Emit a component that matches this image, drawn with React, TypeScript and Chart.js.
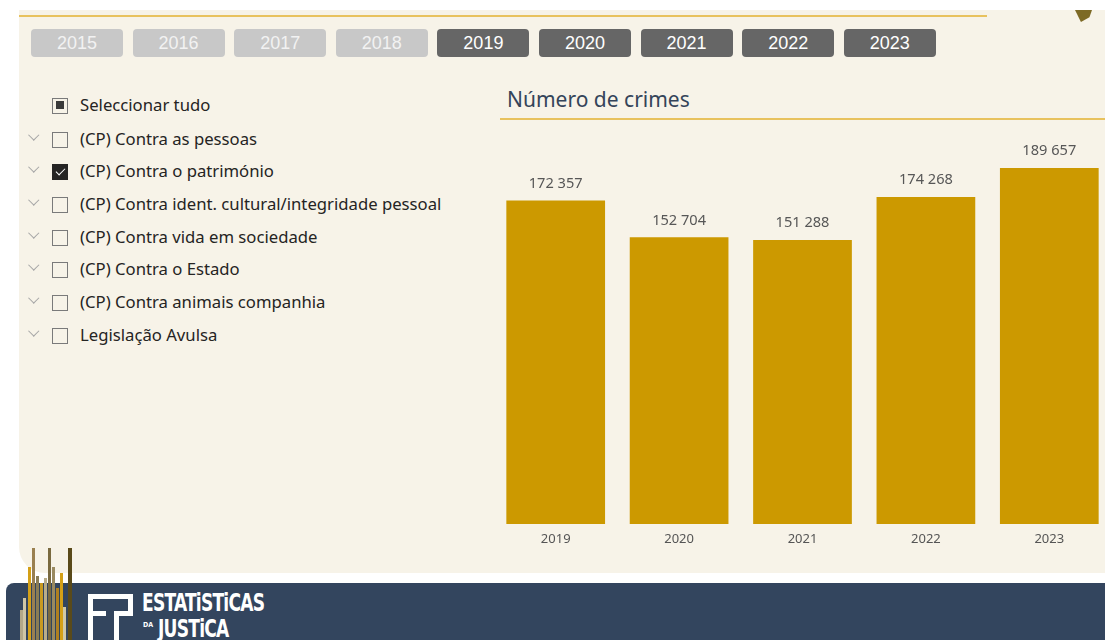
import React, { useEffect, useRef } from "react";
import { Chart, registerables } from "chart.js";

Chart.register(...registerables);

const yearButtons = ["2015", "2016", "2017", "2018", "2019", "2020", "2021", "2022", "2023"];
const selectedYears = ["2019", "2020", "2021", "2022", "2023"];
const years = ["2019", "2020", "2021", "2022", "2023"];
const crimes = [172357, 152704, 151288, 174268, 189657];
const crimeTypes = [
  "(CP) Contra as pessoas",
  "(CP) Contra o património",
  "(CP) Contra ident. cultural/integridade pessoal",
  "(CP) Contra vida em sociedade",
  "(CP) Contra o Estado",
  "(CP) Contra animais companhia",
  "Legislação Avulsa",
];
const checkedTypes = ["(CP) Contra o património"];
const chartTitle = "Número de crimes";
const yMax = 200000;

const UI_FONT = "'Noto Sans', 'Open Sans', sans-serif";
const CREAM = "#f7f3e8";
const GOLD = "#cc9900";

const fmt = (n: number) => n.toString().replace(/\B(?=(\d{3})+(?!\d))/g, " ");

const valueLabels = {
  id: "valueLabels",
  afterDatasetsDraw(chart: any) {
    const ctx = chart.ctx;
    const meta = chart.getDatasetMeta(0);
    ctx.save();
    ctx.font = `14.6px ${UI_FONT}`;
    ctx.fillStyle = "#575757";
    ctx.textAlign = "center";
    ctx.textBaseline = "middle";
    meta.data.forEach((bar: any, i: number) => {
      ctx.fillText(fmt(crimes[i]), bar.x, bar.y - 17);
    });
    ctx.restore();
  },
};

function BarChart() {
  const ref = useRef<HTMLCanvasElement>(null);
  useEffect(() => {
    if (!ref.current) return;
    const chart = new Chart(ref.current, {
      type: "bar",
      data: {
        labels: years,
        datasets: [
          {
            data: crimes,
            backgroundColor: GOLD,
            borderWidth: 0,
            categoryPercentage: 0.8,
            barPercentage: 1,
          },
        ],
      },
      options: {
        animation: false,
        responsive: false,
        maintainAspectRatio: false,
        layout: { padding: { top: 18.6, left: 0, right: 0, bottom: 0 } },
        plugins: { legend: { display: false }, tooltip: { enabled: false } },
        scales: {
          x: {
            grid: { display: false, drawTicks: false },
            border: { display: false },
            ticks: { color: "#555555", font: { family: UI_FONT, size: 13 }, padding: 7 },
            afterFit: (s: any) => {
              s.height = 26;
            },
          },
          y: { display: false, min: 0, max: yMax },
        },
      },
      plugins: [valueLabels],
    });
    return () => chart.destroy();
  }, []);
  return (
    <canvas
      ref={ref}
      width={617}
      height={420}
      style={{ position: "absolute", left: 494, top: 130, width: 617, height: 420 }}
    />
  );
}

const logoLines = [
  { x: 20, w: 3, top: 610, c: "#b3a888" },
  { x: 23, w: 3, top: 598, c: "#cfc6a6" },
  { x: 28, w: 3, top: 567, c: "#d4a017" },
  { x: 32, w: 2.5, top: 548, c: "#9a8050" },
  { x: 36, w: 2.5, top: 576, c: "#8a7d55" },
  { x: 40, w: 3, top: 583, c: "#c89a20" },
  { x: 44, w: 3, top: 578, c: "#b8ad8a" },
  { x: 48, w: 2.5, top: 548, c: "#7a6a40" },
  { x: 52, w: 2.5, top: 567, c: "#9a8a60" },
  { x: 56, w: 3, top: 588, c: "#b08020" },
  { x: 60, w: 3, top: 573, c: "#d4a017" },
  { x: 63, w: 3, top: 607, c: "#d0c8a8" },
  { x: 68, w: 3.5, top: 548, c: "#5a4a1a" },
];

function Checkbox({ state }: { state: "none" | "partial" | "checked" }) {
  const base: React.CSSProperties = {
    position: "absolute",
    left: 52,
    top: -1,
    width: 16,
    height: 16,
    boxSizing: "border-box",
    border: state === "checked" ? "1px solid #252423" : "1.5px solid #7a7a7a",
    background: state === "checked" ? "#252423" : "transparent",
  };
  return (
    <div style={base}>
      {state === "partial" && (
        <div style={{ position: "absolute", left: 2.5, top: 2.5, width: 8, height: 8, background: "#3a3a3a" }} />
      )}
      {state === "checked" && (
        <div
          style={{
            position: "absolute",
            left: 4.5,
            top: 1,
            width: 4,
            height: 8,
            borderRight: "1.5px solid #fff",
            borderBottom: "1.5px solid #fff",
            transform: "rotate(45deg)",
          }}
        />
      )}
    </div>
  );
}

const rowText: React.CSSProperties = {
  position: "absolute",
  left: 80,
  top: -5,
  fontSize: 16.7,
  lineHeight: "22px",
  color: "#252423",
  whiteSpace: "nowrap",
};

const logoText: React.CSSProperties = {
  position: "absolute",
  color: "#ffffff",
  fontFamily: "'DejaVu Sans Condensed', 'Liberation Sans Narrow', sans-serif",
  fontWeight: 700,
  fontSize: 25,
  lineHeight: "30px",
  letterSpacing: -1,
  whiteSpace: "nowrap",
  transform: "scaleX(0.76)",
  transformOrigin: "left",
};

export default function App() {
  return (
    <div
      style={{
        position: "fixed",
        left: 0,
        top: 0,
        width: 1105,
        height: 640,
        overflow: "hidden",
        background: "#ffffff",
        fontFamily: UI_FONT,
      }}
    >
      {/* cream panel */}
      <div
        style={{
          position: "absolute",
          left: 19,
          top: 10,
          width: 1100,
          height: 563,
          background: CREAM,
          borderBottomLeftRadius: 26,
        }}
      />
      {/* top gold line */}
      <div style={{ position: "absolute", left: 19, top: 15, width: 968, height: 1.5, background: "#e8c25e" }} />
      {/* brown mark top right */}
      <div
        style={{
          position: "absolute",
          left: 1075,
          top: 10,
          width: 17,
          height: 12,
          background: "#7d6a25",
          clipPath: "polygon(0% 0%, 100% 0%, 85% 60%, 35% 100%)",
        }}
      />

      {/* year buttons */}
      {yearButtons.map((y, i) => {
        const sel = selectedYears.includes(y);
        return (
          <div
            key={y}
            style={{
              position: "absolute",
              left: 31 + i * 101.6,
              top: 29,
              width: 92,
              height: 28,
              borderRadius: 4,
              background: sel ? "#666666" : "#c8c8c8",
              color: sel ? "#ffffff" : "#f2f2f2",
              fontFamily: "'Liberation Sans', Arial, sans-serif",
              fontSize: 18,
              lineHeight: "28px",
              textAlign: "center",
            }}
          >
            {y}
          </div>
        );
      })}

      {/* slicer list */}
      <div style={{ position: "absolute", left: 0, top: 105 - 6.5, width: 480, height: 13 }}>
        <Checkbox state="partial" />
        <div style={rowText}>Seleccionar tudo</div>
      </div>
      {crimeTypes.map((t, i) => {
        const cy = 139 + i * 32.7;
        return (
          <div key={t} style={{ position: "absolute", left: 0, top: cy - 6.5, width: 480, height: 13 }}>
            <div
              style={{
                position: "absolute",
                left: 30,
                top: -2,
                width: 6.5,
                height: 6.5,
                borderRight: "1.2px solid #a5a5a5",
                borderBottom: "1.2px solid #a5a5a5",
                transform: "rotate(45deg)",
              }}
            />
            <Checkbox state={checkedTypes.includes(t) ? "checked" : "none"} />
            <div style={rowText}>{t}</div>
          </div>
        );
      })}

      {/* chart title */}
      <div
        style={{
          position: "absolute",
          left: 507,
          top: 85,
          fontSize: 21,
          lineHeight: "28px",
          color: "#344459",
          whiteSpace: "nowrap",
        }}
      >
        {chartTitle}
      </div>
      <div style={{ position: "absolute", left: 500, top: 118, width: 605, height: 1.5, background: "#e8c25e" }} />

      <BarChart />

      {/* bottom banner */}
      <div
        style={{
          position: "absolute",
          left: 6,
          top: 583,
          width: 1110,
          height: 70,
          background: "#33455e",
          borderTopLeftRadius: 8,
        }}
      />
      {logoLines.map((l, i) => (
        <div
          key={i}
          style={{ position: "absolute", left: l.x, top: l.top, width: l.w, height: 640 - l.top, background: l.c }}
        />
      ))}
      {/* EJ logo */}
      <div style={{ position: "absolute", left: 88, top: 594, width: 45, height: 5, background: "#fff" }} />
      <div style={{ position: "absolute", left: 88, top: 594, width: 5, height: 50, background: "#fff" }} />
      <div style={{ position: "absolute", left: 128, top: 594, width: 5, height: 22, background: "#fff" }} />
      <div style={{ position: "absolute", left: 114, top: 611, width: 19, height: 5, background: "#fff" }} />
      <div style={{ position: "absolute", left: 114, top: 611, width: 5, height: 35, background: "#fff" }} />
      <div style={{ position: "absolute", left: 88, top: 611, width: 18, height: 5, background: "#fff" }} />

      <div style={{ ...logoText, left: 142, top: 588 }}>ESTATiSTiCAS</div>
      <div
        style={{
          position: "absolute",
          left: 143,
          top: 621,
          color: "#ffffff",
          fontFamily: "'DejaVu Sans Condensed', sans-serif",
          fontWeight: 700,
          fontSize: 7,
          lineHeight: "8px",
        }}
      >
        DA
      </div>
      <div style={{ ...logoText, left: 158, top: 614 }}>JUSTiCA</div>
    </div>
  );
}
